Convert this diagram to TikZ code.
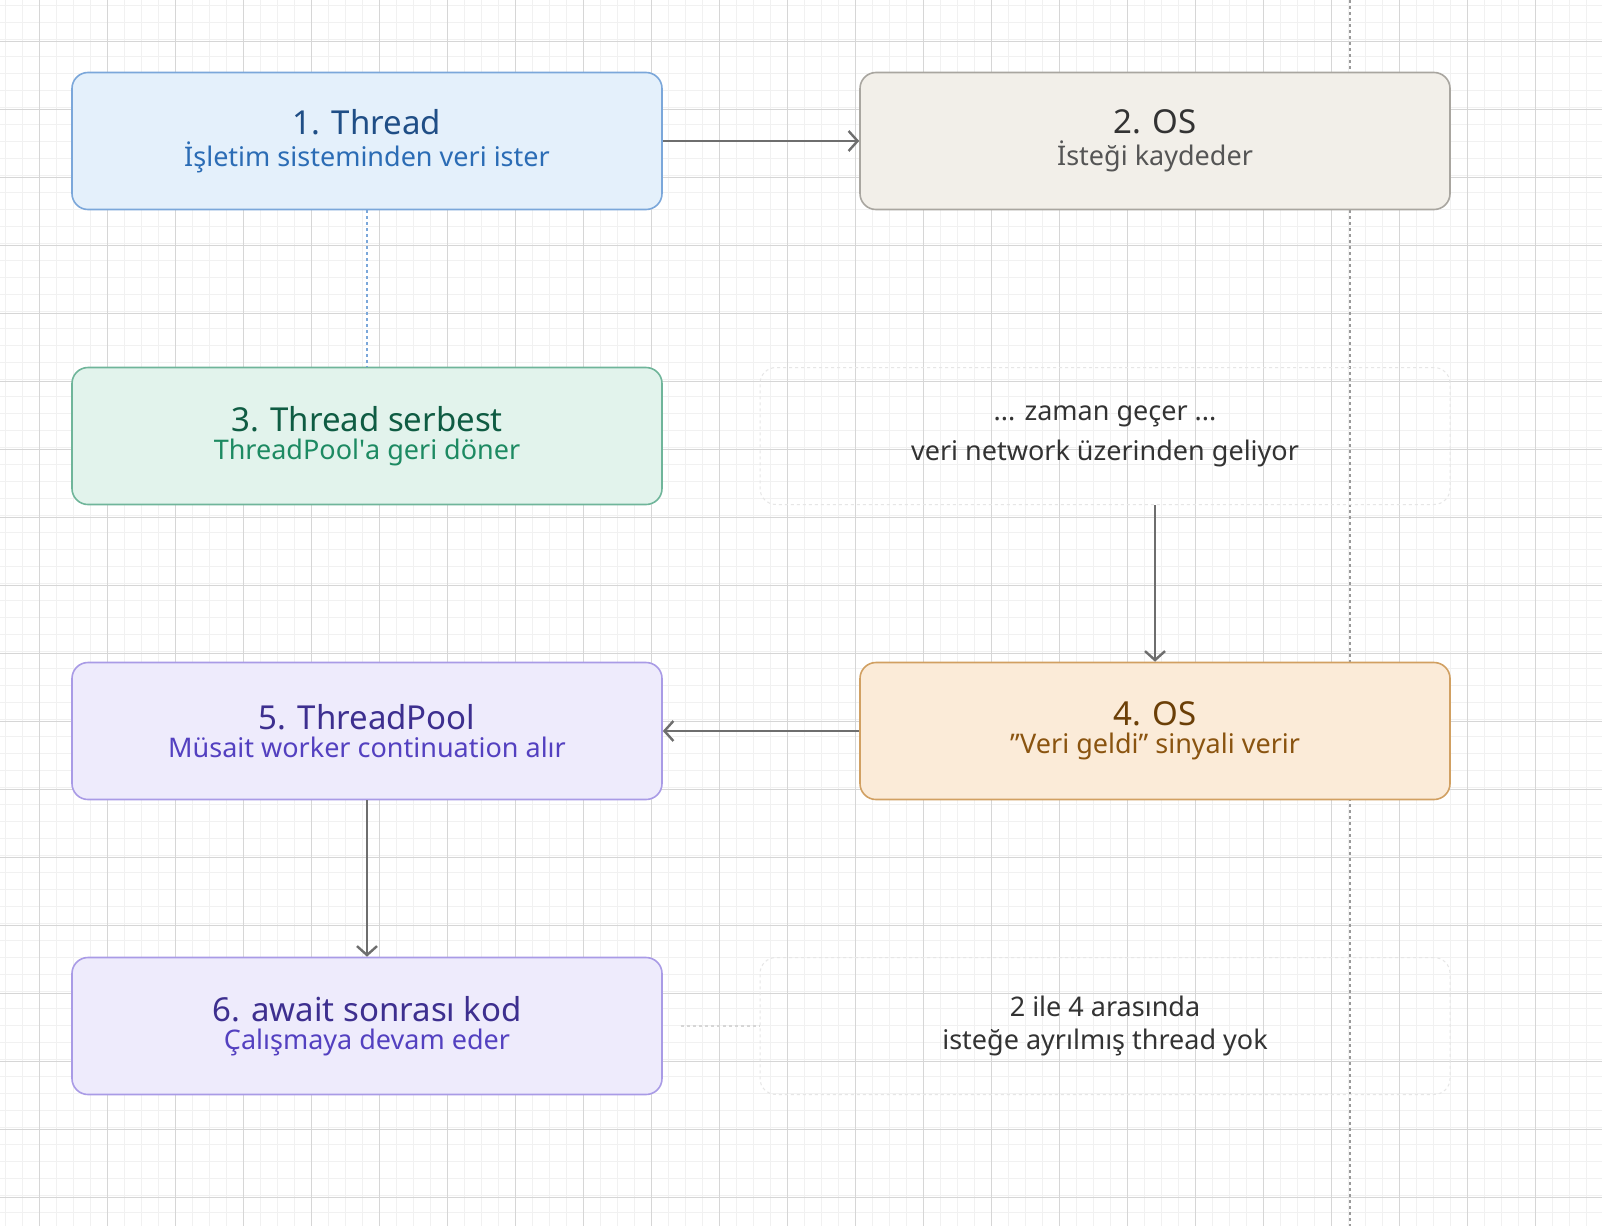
\documentclass[tikz,border=0pt]{standalone}
\usepackage{fontspec}
\setmainfont{Noto Sans}
\usepackage{tikz}
\usetikzlibrary{positioning}
\usetikzlibrary{arrows.meta}

\definecolor{minorgrid}{HTML}{F1F1F1}
\definecolor{majorgrid}{HTML}{D6D6D6}
\definecolor{arrowgray}{HTML}{6E6E6E}
\definecolor{bluefill}{HTML}{E4F0FB}\definecolor{blueline}{HTML}{7BA7DA}
\definecolor{bluetitle}{HTML}{1F4E86}\definecolor{bluesub}{HTML}{2B6CB5}
\definecolor{sandfill}{HTML}{F2EFE9}\definecolor{sandline}{HTML}{A9A6A0}
\definecolor{sandtitle}{HTML}{333333}\definecolor{sandsub}{HTML}{555555}
\definecolor{greenfill}{HTML}{E2F3EC}\definecolor{greenline}{HTML}{6FB59A}
\definecolor{greentitle}{HTML}{0F5C43}\definecolor{greensub}{HTML}{1D8A62}
\definecolor{violetfill}{HTML}{EEEBFC}\definecolor{violetline}{HTML}{A99BE6}
\definecolor{violettitle}{HTML}{3D2F8F}\definecolor{violetsub}{HTML}{5340C0}
\definecolor{orangefill}{HTML}{FBEBD8}\definecolor{orangeline}{HTML}{D1A062}
\definecolor{orangetitle}{HTML}{6B3F07}\definecolor{orangesub}{HTML}{8A5410}

\newcommand{\ttl}{\fontsize{33}{40}\selectfont}
\newcommand{\sbt}{\fontsize{27}{33}\selectfont}

\begin{document}
\begin{tikzpicture}[x=1pt,y=-1pt,
    phase/.style={draw, rounded corners=16pt, line width=1.6pt,
                 minimum width=590pt, minimum height=137pt, align=center},
    note/.style={draw=majorgrid!60, dashed, rounded corners=16pt, line width=1pt,
                 minimum width=690pt, minimum height=137pt, align=center,
                 text=sandtitle},
    flow/.style={draw=arrowgray, line width=2.4pt,
                 -{Straight Barb[length=9pt,width=20pt,line width=2.4pt]}}]
 \useasboundingbox (0,0) rectangle (1602,1226);
 % background grid
 \fill[white] (0,0) rectangle (1602,1226);
 \begin{scope}
 \clip (0,0) rectangle (1602,1226);
 \foreach \i in {0,...,95} {
   \draw[minorgrid, line width=1pt] ({5+17*\i},0) -- ({5+17*\i},1226);
   \draw[minorgrid, line width=1pt] (0,{5+17*\i}) -- (1602,{5+17*\i});
 }
 \foreach \i in {0,...,24} {
   \draw[majorgrid, line width=1pt] ({39+68*\i},0) -- ({39+68*\i},1226);
   \draw[majorgrid, line width=1pt] (0,{41+68*\i}) -- (1602,{41+68*\i});
 }
 \end{scope}
 \draw[arrowgray!70, dashed, line width=1.2pt] (1350,0) -- (1350,1226);

 \node[phase, fill=bluefill, draw=blueline] (thread) at (367,141)
   {\ttl\color{bluetitle}1. Thread\\[6pt]\sbt\color{bluesub}İşletim sisteminden veri ister};
 \node[phase, fill=sandfill, draw=sandline] (os) at (1155,141)
   {\ttl\color{sandtitle}2. OS\\[6pt]\sbt\color{sandsub}İsteği kaydeder};
 \node[phase, fill=greenfill, draw=greenline] (free) at (367,436)
   {\ttl\color{greentitle}3. Thread serbest\\[6pt]\sbt\color{greensub}ThreadPool\textquotesingle a geri döner};
 \node[note] (wait) at (1105,436)
   {\sbt ... zaman geçer ...\\[12pt]\sbt veri network üzerinden geliyor};
 \node[phase, fill=orangefill, draw=orangeline] (signal) at (1155,731)
   {\ttl\color{orangetitle}4. OS\\[6pt]\sbt\color{orangesub}\symbol{34}Veri geldi\symbol{34} sinyali verir};
 \node[phase, fill=violetfill, draw=violetline] (pool) at (367,731)
   {\ttl\color{violettitle}5. ThreadPool\\[6pt]\sbt\color{violetsub}Müsait worker continuation alır};
 \node[phase, fill=violetfill, draw=violetline] (cont) at (367,1026)
   {\ttl\color{violettitle}6. await sonrası kod\\[6pt]\sbt\color{violetsub}Çalışmaya devam eder};
 \node[note] (nothread) at (1105,1026)
   {\sbt 2 ile 4 arasında\\[12pt]\sbt isteğe ayrılmış thread yok};

 \draw[flow] (thread) -- (os);
 \draw[blueline, dashed, line width=1.4pt] (thread) -- (free.north);
 \draw[flow] (wait.south -| signal) -- (signal);
 \draw[flow] (signal) -- (pool);
 \draw[flow] (pool) -- (cont);
 \draw[majorgrid, dashed, line width=1.6pt] (cont.east) ++(18,0) -- (nothread.west);
\end{tikzpicture}
\end{document}
